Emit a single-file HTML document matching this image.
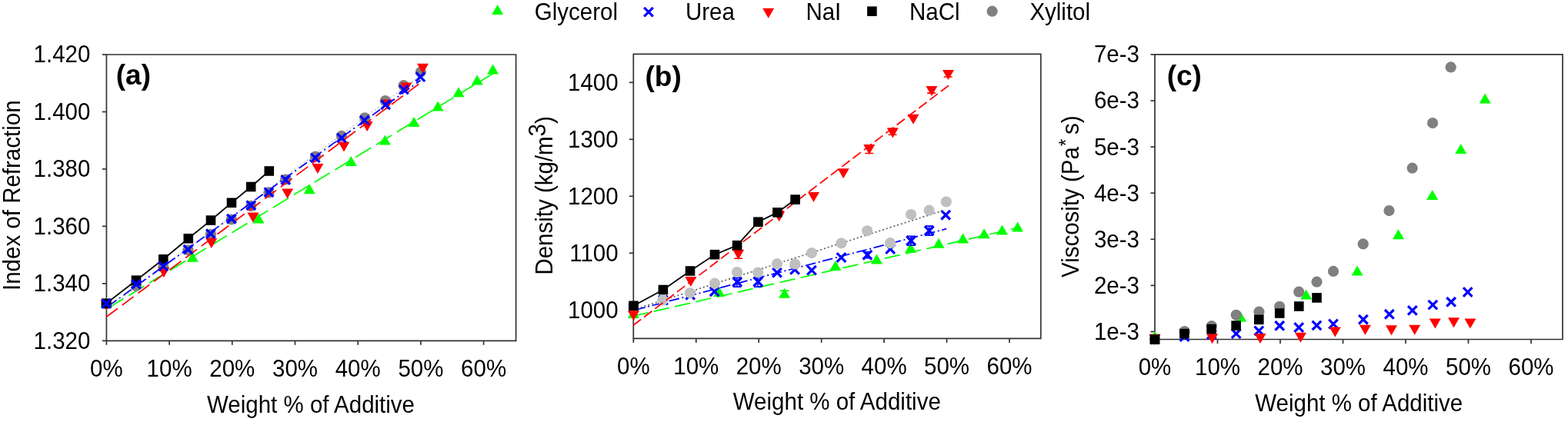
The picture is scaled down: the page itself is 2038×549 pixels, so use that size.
<!DOCTYPE html>
<html><head><meta charset="utf-8"><title>Refraction, density and viscosity vs weight % of additive</title>
<style>
html,body{margin:0;padding:0;background:#fff;}
body{width:2038px;height:549px;overflow:hidden;}
svg{display:block;}
text{font-family:"Liberation Sans",Arial,Helvetica,sans-serif;}
</style></head>
<body>
<svg width="2038" height="549" viewBox="0 0 2038 549">
<rect width="2038" height="549" fill="#fff"/>
<g font-family="'Liberation Sans', Arial, Helvetica, sans-serif" fill="#000">
<path d="M138.4 71H670.6V443.3H138.4Z" stroke="#333333" stroke-width="1.7" fill="none"/>
<path d="M138.4 443.3v5.5" stroke="#333333" stroke-width="1.7"/>
<path d="M220.1 443.3v5.5" stroke="#333333" stroke-width="1.7"/>
<path d="M301.8 443.3v5.5" stroke="#333333" stroke-width="1.7"/>
<path d="M383.5 443.3v5.5" stroke="#333333" stroke-width="1.7"/>
<path d="M465.2 443.3v5.5" stroke="#333333" stroke-width="1.7"/>
<path d="M546.9 443.3v5.5" stroke="#333333" stroke-width="1.7"/>
<path d="M628.6 443.3v5.5" stroke="#333333" stroke-width="1.7"/>
<path d="M138.4 443.3h-5.5" stroke="#333333" stroke-width="1.7"/>
<path d="M138.4 368.84h-5.5" stroke="#333333" stroke-width="1.7"/>
<path d="M138.4 294.38h-5.5" stroke="#333333" stroke-width="1.7"/>
<path d="M138.4 219.92h-5.5" stroke="#333333" stroke-width="1.7"/>
<path d="M138.4 145.46h-5.5" stroke="#333333" stroke-width="1.7"/>
<path d="M138.4 71h-5.5" stroke="#333333" stroke-width="1.7"/>
<text transform="translate(117.4 453.7) scale(1 1.065)" text-anchor="end" font-size="29.5" font-weight="normal">1.320</text>
<text transform="translate(117.4 379.24) scale(1 1.065)" text-anchor="end" font-size="29.5" font-weight="normal">1.340</text>
<text transform="translate(117.4 304.78) scale(1 1.065)" text-anchor="end" font-size="29.5" font-weight="normal">1.360</text>
<text transform="translate(117.4 230.32) scale(1 1.065)" text-anchor="end" font-size="29.5" font-weight="normal">1.380</text>
<text transform="translate(117.4 155.86) scale(1 1.065)" text-anchor="end" font-size="29.5" font-weight="normal">1.400</text>
<text transform="translate(117.4 81.4) scale(1 1.065)" text-anchor="end" font-size="29.5" font-weight="normal">1.420</text>
<text transform="translate(138.4 489.5) scale(1 1.065)" text-anchor="middle" font-size="29.5" font-weight="normal">0%</text>
<text transform="translate(220.1 489.5) scale(1 1.065)" text-anchor="middle" font-size="29.5" font-weight="normal">10%</text>
<text transform="translate(301.8 489.5) scale(1 1.065)" text-anchor="middle" font-size="29.5" font-weight="normal">20%</text>
<text transform="translate(383.5 489.5) scale(1 1.065)" text-anchor="middle" font-size="29.5" font-weight="normal">30%</text>
<text transform="translate(465.2 489.5) scale(1 1.065)" text-anchor="middle" font-size="29.5" font-weight="normal">40%</text>
<text transform="translate(546.9 489.5) scale(1 1.065)" text-anchor="middle" font-size="29.5" font-weight="normal">50%</text>
<text transform="translate(628.6 489.5) scale(1 1.065)" text-anchor="middle" font-size="29.5" font-weight="normal">60%</text>
<path d="M823.3 70.4H1352.8V440.4H823.3Z" stroke="#333333" stroke-width="1.7" fill="none"/>
<path d="M823.3 440.4v5.5" stroke="#333333" stroke-width="1.7"/>
<path d="M904.75 440.4v5.5" stroke="#333333" stroke-width="1.7"/>
<path d="M986.2 440.4v5.5" stroke="#333333" stroke-width="1.7"/>
<path d="M1067.65 440.4v5.5" stroke="#333333" stroke-width="1.7"/>
<path d="M1149.1 440.4v5.5" stroke="#333333" stroke-width="1.7"/>
<path d="M1230.55 440.4v5.5" stroke="#333333" stroke-width="1.7"/>
<path d="M1312 440.4v5.5" stroke="#333333" stroke-width="1.7"/>
<path d="M823.3 403.3h-5.5" stroke="#333333" stroke-width="1.7"/>
<path d="M823.3 329.3h-5.5" stroke="#333333" stroke-width="1.7"/>
<path d="M823.3 255.3h-5.5" stroke="#333333" stroke-width="1.7"/>
<path d="M823.3 181.3h-5.5" stroke="#333333" stroke-width="1.7"/>
<path d="M823.3 107.3h-5.5" stroke="#333333" stroke-width="1.7"/>
<text transform="translate(803.6 413.7) scale(1 1.065)" text-anchor="end" font-size="29.5" font-weight="normal">1000</text>
<text transform="translate(803.6 339.7) scale(1 1.065)" text-anchor="end" font-size="29.5" font-weight="normal">1100</text>
<text transform="translate(803.6 265.7) scale(1 1.065)" text-anchor="end" font-size="29.5" font-weight="normal">1200</text>
<text transform="translate(803.6 191.7) scale(1 1.065)" text-anchor="end" font-size="29.5" font-weight="normal">1300</text>
<text transform="translate(803.6 117.7) scale(1 1.065)" text-anchor="end" font-size="29.5" font-weight="normal">1400</text>
<text transform="translate(823.3 487.4) scale(1 1.065)" text-anchor="middle" font-size="29.5" font-weight="normal">0%</text>
<text transform="translate(904.75 487.4) scale(1 1.065)" text-anchor="middle" font-size="29.5" font-weight="normal">10%</text>
<text transform="translate(986.2 487.4) scale(1 1.065)" text-anchor="middle" font-size="29.5" font-weight="normal">20%</text>
<text transform="translate(1067.65 487.4) scale(1 1.065)" text-anchor="middle" font-size="29.5" font-weight="normal">30%</text>
<text transform="translate(1149.1 487.4) scale(1 1.065)" text-anchor="middle" font-size="29.5" font-weight="normal">40%</text>
<text transform="translate(1230.55 487.4) scale(1 1.065)" text-anchor="middle" font-size="29.5" font-weight="normal">50%</text>
<text transform="translate(1312 487.4) scale(1 1.065)" text-anchor="middle" font-size="29.5" font-weight="normal">60%</text>
<path d="M1501 70.9H2031V441.5H1501Z" stroke="#333333" stroke-width="1.7" fill="none"/>
<path d="M1501 441.5v5.5" stroke="#333333" stroke-width="1.7"/>
<path d="M1582.5 441.5v5.5" stroke="#333333" stroke-width="1.7"/>
<path d="M1664 441.5v5.5" stroke="#333333" stroke-width="1.7"/>
<path d="M1745.5 441.5v5.5" stroke="#333333" stroke-width="1.7"/>
<path d="M1827 441.5v5.5" stroke="#333333" stroke-width="1.7"/>
<path d="M1908.5 441.5v5.5" stroke="#333333" stroke-width="1.7"/>
<path d="M1990 441.5v5.5" stroke="#333333" stroke-width="1.7"/>
<path d="M1501 431.5h-5.5" stroke="#333333" stroke-width="1.7"/>
<path d="M1501 371.4h-5.5" stroke="#333333" stroke-width="1.7"/>
<path d="M1501 311.3h-5.5" stroke="#333333" stroke-width="1.7"/>
<path d="M1501 251.2h-5.5" stroke="#333333" stroke-width="1.7"/>
<path d="M1501 191.1h-5.5" stroke="#333333" stroke-width="1.7"/>
<path d="M1501 131h-5.5" stroke="#333333" stroke-width="1.7"/>
<path d="M1501 70.9h-5.5" stroke="#333333" stroke-width="1.7"/>
<text transform="translate(1481 441.9) scale(1 1.065)" text-anchor="end" font-size="29.5" font-weight="normal">1e-3</text>
<text transform="translate(1481 381.8) scale(1 1.065)" text-anchor="end" font-size="29.5" font-weight="normal">2e-3</text>
<text transform="translate(1481 321.7) scale(1 1.065)" text-anchor="end" font-size="29.5" font-weight="normal">3e-3</text>
<text transform="translate(1481 261.6) scale(1 1.065)" text-anchor="end" font-size="29.5" font-weight="normal">4e-3</text>
<text transform="translate(1481 201.5) scale(1 1.065)" text-anchor="end" font-size="29.5" font-weight="normal">5e-3</text>
<text transform="translate(1481 141.4) scale(1 1.065)" text-anchor="end" font-size="29.5" font-weight="normal">6e-3</text>
<text transform="translate(1481 81.3) scale(1 1.065)" text-anchor="end" font-size="29.5" font-weight="normal">7e-3</text>
<text transform="translate(1501 487.7) scale(1 1.065)" text-anchor="middle" font-size="29.5" font-weight="normal">0%</text>
<text transform="translate(1582.5 487.7) scale(1 1.065)" text-anchor="middle" font-size="29.5" font-weight="normal">10%</text>
<text transform="translate(1664 487.7) scale(1 1.065)" text-anchor="middle" font-size="29.5" font-weight="normal">20%</text>
<text transform="translate(1745.5 487.7) scale(1 1.065)" text-anchor="middle" font-size="29.5" font-weight="normal">30%</text>
<text transform="translate(1827 487.7) scale(1 1.065)" text-anchor="middle" font-size="29.5" font-weight="normal">40%</text>
<text transform="translate(1908.5 487.7) scale(1 1.065)" text-anchor="middle" font-size="29.5" font-weight="normal">50%</text>
<text transform="translate(1990 487.7) scale(1 1.065)" text-anchor="middle" font-size="29.5" font-weight="normal">60%</text>
<text transform="translate(404 536.5) scale(1 1.065)" text-anchor="middle" font-size="29.5" font-weight="normal">Weight % of Additive</text>
<text transform="translate(1087.8 533.2) scale(1 1.065)" text-anchor="middle" font-size="29.5" font-weight="normal">Weight % of Additive</text>
<text transform="translate(1766.2 534.7) scale(1 1.065)" text-anchor="middle" font-size="29.5" font-weight="normal">Weight % of Additive</text>
<text transform="translate(26.3 254.2) rotate(-90) scale(1 1.065)" text-anchor="middle" font-size="29.5">Index of Refraction</text>
<text transform="translate(717.9 254.4) rotate(-90) scale(1 1.065)" text-anchor="middle" font-size="29.5">Density (kg/m<tspan dy="-8.6">3</tspan><tspan dy="8.6">)</tspan></text>
<text transform="translate(1402.0 361.0) rotate(-90) scale(1 1.065)" text-anchor="start" font-size="29.5">Viscosity (Pa<tspan font-size="24.5" dx="0.8" dy="-7.8">*</tspan><tspan dx="5.7" dy="7.8">s)</tspan></text>
<text x="150.8" y="110" text-anchor="start" font-size="37" font-weight="bold">(a)</text>
<text x="838.5" y="112.3" text-anchor="start" font-size="37" font-weight="bold">(b)</text>
<text x="1516.7" y="111.1" text-anchor="start" font-size="37" font-weight="bold">(c)</text>
<polygon points="639.1,19.1 654.1,19.1 646.6,6.1" fill="#00ff00"/>
<text transform="translate(694.8 25.6) scale(1 1.045)" text-anchor="start" font-size="29.5" font-weight="normal">Glycerol</text>
<path d="M837.2 9.8L848.8 21.4M848.8 9.8L837.2 21.4" stroke="#0000ff" stroke-width="3.2" fill="none"/>
<text transform="translate(891 25.6) scale(1 1.045)" text-anchor="start" font-size="29.5" font-weight="normal">Urea</text>
<polygon points="991.2,10.8 1006.2,10.8 998.7,23.8" fill="#ff0000"/>
<text transform="translate(1047.4 25.7) scale(1 1.045)" text-anchor="start" font-size="29.5" font-weight="normal">NaI</text>
<rect x="1127.1" y="8.4" width="12.6" height="12.6" fill="#000"/>
<text transform="translate(1182 25.7) scale(1 1.045)" text-anchor="start" font-size="29.5" font-weight="normal">NaCl</text>
<circle cx="1289.6" cy="14.7" r="7.1" fill="#808080"/>
<text transform="translate(1338.4 25.7) scale(1 1.045)" text-anchor="start" font-size="29.5" font-weight="normal">Xylitol</text>
</g>
<line x1="138.2" y1="402.2" x2="640.6" y2="95.7" stroke="#00ff00" stroke-width="1.75" stroke-dasharray="23.5 7.9" stroke-dashoffset="-2.75"/>
<polygon points="130.7,400 145.7,400 138.2,387" fill="#00ff00"/>
<polygon points="242.8,340.7 257.8,340.7 250.3,327.7" fill="#00ff00"/>
<polygon points="328.5,290.6 343.5,290.6 336,277.6" fill="#00ff00"/>
<polygon points="394.7,252.2 409.7,252.2 402.2,239.2" fill="#00ff00"/>
<polygon points="448.8,215.9 463.8,215.9 456.3,202.9" fill="#00ff00"/>
<polygon points="492.9,188.4 507.9,188.4 500.4,175.4" fill="#00ff00"/>
<polygon points="530.5,165 545.5,165 538,152" fill="#00ff00"/>
<polygon points="561.6,144.6 576.6,144.6 569.1,131.6" fill="#00ff00"/>
<polygon points="588.6,126.2 603.6,126.2 596.1,113.2" fill="#00ff00"/>
<polygon points="612.7,110.6 627.7,110.6 620.2,97.6" fill="#00ff00"/>
<polygon points="633.1,96.5 648.1,96.5 640.6,83.5" fill="#00ff00"/>
<line x1="138.2" y1="403" x2="546.6" y2="98.5" stroke="#b0b0b0" stroke-width="1.4" stroke-dasharray="1.5 3.5"/>
<circle cx="138.2" cy="395.5" r="7.1" fill="#808080"/>
<circle cx="177" cy="372" r="7.1" fill="#808080"/>
<circle cx="212.3" cy="347.5" r="7.1" fill="#808080"/>
<circle cx="244.5" cy="325.3" r="7.1" fill="#808080"/>
<circle cx="273.9" cy="304.8" r="7.1" fill="#808080"/>
<circle cx="300.8" cy="285.5" r="7.1" fill="#808080"/>
<circle cx="326.2" cy="267.9" r="7.1" fill="#808080"/>
<circle cx="349.5" cy="250.4" r="7.1" fill="#808080"/>
<circle cx="371.2" cy="233.5" r="7.1" fill="#808080"/>
<circle cx="410.1" cy="203.7" r="7.1" fill="#808080"/>
<circle cx="443.9" cy="176.9" r="7.1" fill="#808080"/>
<circle cx="474.2" cy="153.3" r="7.1" fill="#808080"/>
<circle cx="500.8" cy="131" r="7.1" fill="#808080"/>
<circle cx="524.6" cy="111.2" r="7.1" fill="#808080"/>
<circle cx="546.9" cy="93.8" r="7.1" fill="#808080"/>
<line x1="138.2" y1="412.3" x2="549" y2="105.9" stroke="#ff0000" stroke-width="1.75" stroke-dasharray="18.5 7.2"/>
<polygon points="130.7,390.5 145.7,390.5 138.2,403.5" fill="#ff0000"/>
<polygon points="205.4,348.1 220.4,348.1 212.9,361.1" fill="#ff0000"/>
<polygon points="267.3,309.9 282.3,309.9 274.8,322.9" fill="#ff0000"/>
<polygon points="321.4,276.5 336.4,276.5 328.9,289.5" fill="#ff0000"/>
<polygon points="366.1,245.5 381.1,245.5 373.6,258.5" fill="#ff0000"/>
<polygon points="405.4,213.1 420.4,213.1 412.9,226.1" fill="#ff0000"/>
<polygon points="439.5,184.4 454.5,184.4 447,197.4" fill="#ff0000"/>
<polygon points="469.7,158.1 484.7,158.1 477.2,171.1" fill="#ff0000"/>
<polygon points="496,129.4 511,129.4 503.5,142.4" fill="#ff0000"/>
<polygon points="520.5,107.6 535.5,107.6 528,120.6" fill="#ff0000"/>
<polygon points="542,82.7 557,82.7 549.5,95.7" fill="#ff0000"/>
<polyline points="138.2,394.7 177,364.7 212.3,337.3 244.8,310.3 274,286.6 301,263.8 326.2,243 349.8,222.5" stroke="#000" stroke-width="1.8" fill="none"/>
<rect x="131.9" y="388.4" width="12.6" height="12.6" fill="#000"/>
<rect x="170.7" y="358.4" width="12.6" height="12.6" fill="#000"/>
<rect x="206" y="331" width="12.6" height="12.6" fill="#000"/>
<rect x="238.5" y="304" width="12.6" height="12.6" fill="#000"/>
<rect x="267.7" y="280.3" width="12.6" height="12.6" fill="#000"/>
<rect x="294.7" y="257.5" width="12.6" height="12.6" fill="#000"/>
<rect x="319.9" y="236.7" width="12.6" height="12.6" fill="#000"/>
<rect x="343.5" y="216.2" width="12.6" height="12.6" fill="#000"/>
<line x1="138.2" y1="400.2" x2="546.6" y2="104.5" stroke="#0000ff" stroke-width="1.75" stroke-dasharray="12.5 4.2 2 4.8" stroke-dashoffset="-3.9"/>
<path d="M132.4 389.2L144 400.8M144 389.2L132.4 400.8" stroke="#0000ff" stroke-width="3.2" fill="none"/>
<path d="M171.2 364L182.8 375.6M182.8 364L171.2 375.6" stroke="#0000ff" stroke-width="3.2" fill="none"/>
<path d="M206.5 340.6L218.1 352.2M218.1 340.6L206.5 352.2" stroke="#0000ff" stroke-width="3.2" fill="none"/>
<path d="M238.7 318.8L250.3 330.4M250.3 318.8L238.7 330.4" stroke="#0000ff" stroke-width="3.2" fill="none"/>
<path d="M268.1 298.3L279.7 309.9M279.7 298.3L268.1 309.9" stroke="#0000ff" stroke-width="3.2" fill="none"/>
<path d="M295.1 278.9L306.7 290.5M306.7 278.9L295.1 290.5" stroke="#0000ff" stroke-width="3.2" fill="none"/>
<path d="M320.5 261.4L332.1 273M332.1 261.4L320.5 273" stroke="#0000ff" stroke-width="3.2" fill="none"/>
<path d="M343.7 244.4L355.3 256M355.3 244.4L343.7 256" stroke="#0000ff" stroke-width="3.2" fill="none"/>
<path d="M365.5 228.2L377.1 239.8M377.1 228.2L365.5 239.8" stroke="#0000ff" stroke-width="3.2" fill="none"/>
<path d="M404 199.6L415.6 211.2M415.6 199.6L404 211.2" stroke="#0000ff" stroke-width="3.2" fill="none"/>
<path d="M438.1 173.6L449.7 185.2M449.7 173.6L438.1 185.2" stroke="#0000ff" stroke-width="3.2" fill="none"/>
<path d="M468 150.6L479.6 162.2M479.6 150.6L468 162.2" stroke="#0000ff" stroke-width="3.2" fill="none"/>
<path d="M495.4 130.5L507 142.1M507 130.5L495.4 142.1" stroke="#0000ff" stroke-width="3.2" fill="none"/>
<path d="M519.1 110.8L530.7 122.4M530.7 110.8L519.1 122.4" stroke="#0000ff" stroke-width="3.2" fill="none"/>
<path d="M540.6 94.2L552.2 105.8M552.2 94.2L540.6 105.8" stroke="#0000ff" stroke-width="3.2" fill="none"/>
<line x1="823.3" y1="411.2" x2="1322.6" y2="296.4" stroke="#00ff00" stroke-width="1.75" stroke-dasharray="20.5 7.5" stroke-dashoffset="1"/>
<polygon points="815.8,414 830.8,414 823.3,401" fill="#00ff00"/>
<polygon points="927.2,385.9 942.2,385.9 934.7,372.9" fill="#00ff00"/>
<polygon points="1012.1,387.7 1027.1,387.7 1019.6,374.7" fill="#00ff00"/>
<polygon points="1078.3,351.9 1093.3,351.9 1085.8,338.9" fill="#00ff00"/>
<polygon points="1132,343.4 1147,343.4 1139.5,330.4" fill="#00ff00"/>
<polygon points="1176.2,328.7 1191.2,328.7 1183.7,315.7" fill="#00ff00"/>
<polygon points="1212.6,322.7 1227.6,322.7 1220.1,309.7" fill="#00ff00"/>
<polygon points="1244.1,316.6 1259.1,316.6 1251.6,303.6" fill="#00ff00"/>
<polygon points="1271.6,310.2 1286.6,310.2 1279.1,297.2" fill="#00ff00"/>
<polygon points="1295,305.6 1310,305.6 1302.5,292.6" fill="#00ff00"/>
<polygon points="1315.1,301.6 1330.1,301.6 1322.6,288.6" fill="#00ff00"/>
<path d="M1019.6 378.1V386M1013.6 378.1H1025.6M1013.6 386H1025.6" stroke="#00ff00" stroke-width="1.6" fill="none"/>
<line x1="823.3" y1="403.8" x2="1230.2" y2="297.7" stroke="#0000ff" stroke-width="1.75" stroke-dasharray="13.6 3.7 2 3.6" stroke-dashoffset="-2.1"/>
<path d="M817.5 394.7L829.1 406.3M829.1 394.7L817.5 406.3" stroke="#0000ff" stroke-width="3.2" fill="none"/>
<path d="M856.1 384.7L867.7 396.3M867.7 384.7L856.1 396.3" stroke="#0000ff" stroke-width="3.2" fill="none"/>
<path d="M891.4 378L903 389.6M903 378L891.4 389.6" stroke="#0000ff" stroke-width="3.2" fill="none"/>
<path d="M922.9 373.5L934.5 385.1M934.5 373.5L922.9 385.1" stroke="#0000ff" stroke-width="3.2" fill="none"/>
<path d="M952.4 361L964 372.6M964 361L952.4 372.6" stroke="#0000ff" stroke-width="3.2" fill="none"/>
<path d="M979.5 360.7L991.1 372.3M991.1 360.7L979.5 372.3" stroke="#0000ff" stroke-width="3.2" fill="none"/>
<path d="M1004.2 348.9L1015.8 360.5M1015.8 348.9L1004.2 360.5" stroke="#0000ff" stroke-width="3.2" fill="none"/>
<path d="M1027.3 345.1L1038.9 356.7M1038.9 345.1L1027.3 356.7" stroke="#0000ff" stroke-width="3.2" fill="none"/>
<path d="M1049.2 345.8L1060.8 357.4M1060.8 345.8L1049.2 357.4" stroke="#0000ff" stroke-width="3.2" fill="none"/>
<path d="M1087.7 329.2L1099.3 340.8M1099.3 329.2L1087.7 340.8" stroke="#0000ff" stroke-width="3.2" fill="none"/>
<path d="M1121.6 325.9L1133.2 337.5M1133.2 325.9L1121.6 337.5" stroke="#0000ff" stroke-width="3.2" fill="none"/>
<path d="M1151.4 318.2L1163 329.8M1163 318.2L1151.4 329.8" stroke="#0000ff" stroke-width="3.2" fill="none"/>
<path d="M1178.3 307.4L1189.9 319M1189.9 307.4L1178.3 319" stroke="#0000ff" stroke-width="3.2" fill="none"/>
<path d="M1201.9 294.3L1213.5 305.9M1213.5 294.3L1201.9 305.9" stroke="#0000ff" stroke-width="3.2" fill="none"/>
<path d="M1223.4 273.9L1235 285.5M1235 273.9L1223.4 285.5" stroke="#0000ff" stroke-width="3.2" fill="none"/>
<path d="M958 361.1V373.1M952.5 361.1H963.5M952.5 373.1H963.5" stroke="#0000ff" stroke-width="1.6" fill="none"/>
<path d="M985.1 361.1V373.1M979.6 361.1H990.6M979.6 373.1H990.6" stroke="#0000ff" stroke-width="1.6" fill="none"/>
<path d="M1184.1 307.2V319.2M1178.6 307.2H1189.6M1178.6 319.2H1189.6" stroke="#0000ff" stroke-width="1.6" fill="none"/>
<path d="M1207.7 294.1V306.1M1202.2 294.1H1213.2M1202.2 306.1H1213.2" stroke="#0000ff" stroke-width="1.6" fill="none"/>
<path d="M1127.4 327.7V335.7M1121.9 327.7H1132.9M1121.9 335.7H1132.9" stroke="#0000ff" stroke-width="1.6" fill="none"/>
<line x1="823.3" y1="403" x2="1228.2" y2="273.1" stroke="#666666" stroke-width="1.8" stroke-dasharray="2 3"/>
<circle cx="823.3" cy="400" r="7.1" fill="#c0c0c0"/>
<circle cx="861.5" cy="390.5" r="7.1" fill="#c0c0c0"/>
<circle cx="896.8" cy="381" r="7.1" fill="#c0c0c0"/>
<circle cx="929" cy="368.7" r="7.1" fill="#c0c0c0"/>
<circle cx="958" cy="354" r="7.1" fill="#c0c0c0"/>
<circle cx="985.2" cy="354.6" r="7.1" fill="#c0c0c0"/>
<circle cx="1010" cy="343.2" r="7.1" fill="#c0c0c0"/>
<circle cx="1033.3" cy="343.4" r="7.1" fill="#c0c0c0"/>
<circle cx="1055" cy="329.1" r="7.1" fill="#c0c0c0"/>
<circle cx="1093.5" cy="316.3" r="7.1" fill="#c0c0c0"/>
<circle cx="1127.2" cy="300.3" r="7.1" fill="#c0c0c0"/>
<circle cx="1157.1" cy="316.2" r="7.1" fill="#c0c0c0"/>
<circle cx="1184.1" cy="279.1" r="7.1" fill="#c0c0c0"/>
<circle cx="1207.7" cy="273.7" r="7.1" fill="#c0c0c0"/>
<circle cx="1229.8" cy="262.5" r="7.1" fill="#c0c0c0"/>
<line x1="823.3" y1="423" x2="1233.2" y2="111.1" stroke="#ff0000" stroke-width="1.75" stroke-dasharray="12.9 5.05" stroke-dashoffset="0.6"/>
<polygon points="816,404.3 831,404.3 823.5,417.3" fill="#ff0000"/>
<polygon points="890.3,359.9 905.3,359.9 897.8,372.9" fill="#ff0000"/>
<polygon points="952.2,324.7 967.2,324.7 959.7,337.7" fill="#ff0000"/>
<polygon points="1005.1,275.3 1020.1,275.3 1012.6,288.3" fill="#ff0000"/>
<polygon points="1050,249.9 1065,249.9 1057.5,262.9" fill="#ff0000"/>
<polygon points="1088.7,219.2 1103.7,219.2 1096.2,232.2" fill="#ff0000"/>
<polygon points="1122.3,188 1137.3,188 1129.8,201" fill="#ff0000"/>
<polygon points="1152.8,166.4 1167.8,166.4 1160.3,179.4" fill="#ff0000"/>
<polygon points="1179.5,148.8 1194.5,148.8 1187,161.8" fill="#ff0000"/>
<polygon points="1203.4,112 1218.4,112 1210.9,125" fill="#ff0000"/>
<polygon points="1225,91.1 1240,91.1 1232.5,104.1" fill="#ff0000"/>
<path d="M959.7 326.2V336.2M954.2 326.2H965.2M954.2 336.2H965.2" stroke="#ff0000" stroke-width="1.6" fill="none"/>
<path d="M1129.8 189.5V199.5M1124.3 189.5H1135.3M1124.3 199.5H1135.3" stroke="#ff0000" stroke-width="1.6" fill="none"/>
<path d="M1160.1 167.2V175.2M1154.6 167.2H1165.6M1154.6 175.2H1165.6" stroke="#ff0000" stroke-width="1.6" fill="none"/>
<path d="M1210.6 113.1V121.1M1205.1 113.1H1216.1M1205.1 121.1H1216.1" stroke="#ff0000" stroke-width="1.6" fill="none"/>
<path d="M1232.2 92V100M1226.7 92H1237.7M1226.7 100H1237.7" stroke="#ff0000" stroke-width="1.6" fill="none"/>
<polyline points="823.5,397.8 861.9,377 897,352.5 929,331.2 958.1,319.2 985.4,288.7 1010.4,276.4 1033.6,259.6" stroke="#000" stroke-width="1.8" fill="none"/>
<rect x="817.2" y="391.5" width="12.6" height="12.6" fill="#000"/>
<rect x="855.6" y="370.7" width="12.6" height="12.6" fill="#000"/>
<rect x="890.7" y="346.2" width="12.6" height="12.6" fill="#000"/>
<rect x="922.7" y="324.9" width="12.6" height="12.6" fill="#000"/>
<rect x="951.8" y="312.9" width="12.6" height="12.6" fill="#000"/>
<rect x="979.1" y="282.4" width="12.6" height="12.6" fill="#000"/>
<rect x="1004.1" y="270.1" width="12.6" height="12.6" fill="#000"/>
<rect x="1027.3" y="253.3" width="12.6" height="12.6" fill="#000"/>
<polygon points="1493.5,443.6 1508.5,443.6 1501,430.6" fill="#00ff00"/>
<polygon points="1605.2,418.5 1620.2,418.5 1612.7,405.5" fill="#00ff00"/>
<polygon points="1690.1,389.5 1705.1,389.5 1697.6,376.5" fill="#00ff00"/>
<polygon points="1756.6,358.5 1771.6,358.5 1764.1,345.5" fill="#00ff00"/>
<polygon points="1810,311.2 1825,311.2 1817.5,298.2" fill="#00ff00"/>
<polygon points="1854.2,260.1 1869.2,260.1 1861.7,247.1" fill="#00ff00"/>
<polygon points="1891.2,200.1 1906.2,200.1 1898.7,187.1" fill="#00ff00"/>
<polygon points="1922.7,134.6 1937.7,134.6 1930.2,121.6" fill="#00ff00"/>
<circle cx="1501" cy="441.5" r="7.1" fill="#808080"/>
<circle cx="1539.6" cy="431" r="7.1" fill="#808080"/>
<circle cx="1574.8" cy="424" r="7.1" fill="#808080"/>
<circle cx="1606.7" cy="409.8" r="7.1" fill="#808080"/>
<circle cx="1636.4" cy="405.7" r="7.1" fill="#808080"/>
<circle cx="1663.2" cy="398.8" r="7.1" fill="#808080"/>
<circle cx="1688.2" cy="379.7" r="7.1" fill="#808080"/>
<circle cx="1711.5" cy="366.7" r="7.1" fill="#808080"/>
<circle cx="1733" cy="352.9" r="7.1" fill="#808080"/>
<circle cx="1771.7" cy="317.4" r="7.1" fill="#808080"/>
<circle cx="1805.5" cy="274.1" r="7.1" fill="#808080"/>
<circle cx="1835.6" cy="218.7" r="7.1" fill="#808080"/>
<circle cx="1862.1" cy="160.1" r="7.1" fill="#808080"/>
<circle cx="1885.7" cy="87.4" r="7.1" fill="#808080"/>
<path d="M1495.2 435.7L1506.8 447.3M1506.8 435.7L1495.2 447.3" stroke="#0000ff" stroke-width="3.2" fill="none"/>
<path d="M1533.8 432.2L1545.4 443.8M1545.4 432.2L1533.8 443.8" stroke="#0000ff" stroke-width="3.2" fill="none"/>
<path d="M1569 429.4L1580.6 441M1580.6 429.4L1569 441" stroke="#0000ff" stroke-width="3.2" fill="none"/>
<path d="M1600.9 428.3L1612.5 439.9M1612.5 428.3L1600.9 439.9" stroke="#0000ff" stroke-width="3.2" fill="none"/>
<path d="M1630.5 424.6L1642.1 436.2M1642.1 424.6L1630.5 436.2" stroke="#0000ff" stroke-width="3.2" fill="none"/>
<path d="M1657.4 418L1669 429.6M1669 418L1657.4 429.6" stroke="#0000ff" stroke-width="3.2" fill="none"/>
<path d="M1682.4 420.2L1694 431.8M1694 420.2L1682.4 431.8" stroke="#0000ff" stroke-width="3.2" fill="none"/>
<path d="M1705.6 417.6L1717.2 429.2M1717.2 417.6L1705.6 429.2" stroke="#0000ff" stroke-width="3.2" fill="none"/>
<path d="M1727.2 415.7L1738.8 427.3M1738.8 415.7L1727.2 427.3" stroke="#0000ff" stroke-width="3.2" fill="none"/>
<path d="M1766.1 409.9L1777.7 421.5M1777.7 409.9L1766.1 421.5" stroke="#0000ff" stroke-width="3.2" fill="none"/>
<path d="M1800 403L1811.6 414.6M1811.6 403L1800 414.6" stroke="#0000ff" stroke-width="3.2" fill="none"/>
<path d="M1830 398.1L1841.6 409.7M1841.6 398.1L1830 409.7" stroke="#0000ff" stroke-width="3.2" fill="none"/>
<path d="M1856.5 390.8L1868.1 402.4M1868.1 390.8L1856.5 402.4" stroke="#0000ff" stroke-width="3.2" fill="none"/>
<path d="M1880.3 387L1891.9 398.6M1891.9 387L1880.3 398.6" stroke="#0000ff" stroke-width="3.2" fill="none"/>
<path d="M1901.9 374.2L1913.5 385.8M1913.5 374.2L1901.9 385.8" stroke="#0000ff" stroke-width="3.2" fill="none"/>
<polygon points="1493.4,434.7 1508.4,434.7 1500.9,447.7" fill="#ff0000"/>
<polygon points="1568.1,434.2 1583.1,434.2 1575.6,447.2" fill="#ff0000"/>
<polygon points="1630.5,434.1 1645.5,434.1 1638,447.1" fill="#ff0000"/>
<polygon points="1683,432.8 1698,432.8 1690.5,445.8" fill="#ff0000"/>
<polygon points="1727.8,425.5 1742.8,425.5 1735.3,438.5" fill="#ff0000"/>
<polygon points="1766.9,422.8 1781.9,422.8 1774.4,435.8" fill="#ff0000"/>
<polygon points="1801,423.2 1816,423.2 1808.5,436.2" fill="#ff0000"/>
<polygon points="1831.2,422.8 1846.2,422.8 1838.7,435.8" fill="#ff0000"/>
<polygon points="1857.8,414.4 1872.8,414.4 1865.3,427.4" fill="#ff0000"/>
<polygon points="1882,413.3 1897,413.3 1889.5,426.3" fill="#ff0000"/>
<polygon points="1903.4,414.4 1918.4,414.4 1910.9,427.4" fill="#ff0000"/>
<rect x="1494.7" y="435.2" width="12.6" height="12.6" fill="#000"/>
<rect x="1533.1" y="427.8" width="12.6" height="12.6" fill="#000"/>
<rect x="1568.3" y="421.8" width="12.6" height="12.6" fill="#000"/>
<rect x="1600.3" y="417.3" width="12.6" height="12.6" fill="#000"/>
<rect x="1630" y="409.5" width="12.6" height="12.6" fill="#000"/>
<rect x="1656.9" y="401.2" width="12.6" height="12.6" fill="#000"/>
<rect x="1682" y="392.2" width="12.6" height="12.6" fill="#000"/>
<rect x="1705.2" y="381.1" width="12.6" height="12.6" fill="#000"/>
</svg>
</body></html>
